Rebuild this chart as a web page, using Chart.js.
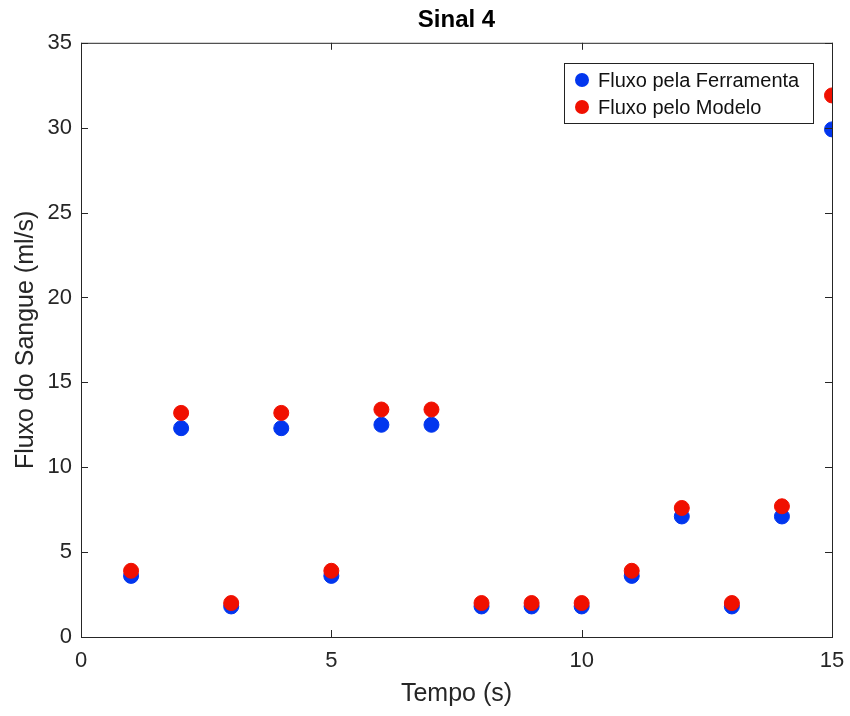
<!DOCTYPE html>
<html>
<head>
<meta charset="utf-8">
<script src="https://cdn.jsdelivr.net/npm/chart.js@4/dist/chart.umd.min.js"></script>
<style>
  html, body { margin: 0; padding: 0; background: #fff; }
  #wrap { width: 850px; height: 716px; }
</style>
</head>
<body>
<div id="wrap"><canvas id="canvas" width="850" height="716"></canvas></div>
<script>
// data
var tempo = [1, 2, 3, 4, 5, 6, 7, 8, 9, 10, 11, 12, 13, 14, 15];
var fluxoFerramenta = [3.6, 12.3, 1.8, 12.3, 3.6, 12.5, 12.5, 1.8, 1.8, 1.8, 3.6, 7.1, 1.8, 7.1, 29.9];
var fluxoModelo = [3.9, 13.2, 2.0, 13.2, 3.9, 13.4, 13.4, 2.0, 2.0, 2.0, 3.9, 7.6, 2.0, 7.7, 31.9];
var xTicks = [0, 5, 10, 15];
var yTicks = [0, 5, 10, 15, 20, 25, 30, 35];

var axisColor = '#262626';
var fontFamily = '"Liberation Sans", Arial, sans-serif';

function toPoints(xs, ys) {
    var pts = [];
    for (var i = 0; i < xs.length; i++) {
        pts.push({x: xs[i], y: ys[i]});
    }
    return pts;
}

// box around the plot + mirrored inward ticks, like matlab
var boxPlugin = {
    id: 'box',
    afterDatasetsDraw: function(chart) {
        var ctx = chart.ctx, a = chart.chartArea;
        var xs = chart.scales.x, ys = chart.scales.y;
        ctx.save();
        ctx.strokeStyle = axisColor;
        ctx.lineWidth = 1;
        ctx.strokeRect(a.left + 0.5, a.top + 0.5, a.right - a.left, a.bottom - a.top);
        ctx.beginPath();
        xTicks.forEach(function(v) {
            var px = Math.round(xs.getPixelForValue(v)) + 0.5;
            ctx.moveTo(px, a.bottom); ctx.lineTo(px, a.bottom - 7);
            ctx.moveTo(px, a.top); ctx.lineTo(px, a.top + 7);
        });
        yTicks.forEach(function(v) {
            var py = Math.round(ys.getPixelForValue(v)) + 0.5;
            ctx.moveTo(a.left, py); ctx.lineTo(a.left + 7, py);
            ctx.moveTo(a.right, py); ctx.lineTo(a.right - 7, py);
        });
        ctx.stroke();

        // legend box in the top right corner
        var lx = 564, ly = 63, lw = 249, lh = 60;
        ctx.fillStyle = '#fff';
        ctx.fillRect(lx, ly, lw, lh);
        ctx.strokeStyle = '#222';
        ctx.strokeRect(lx + 0.5, ly + 0.5, lw, lh);
        ctx.font = '20px ' + fontFamily;
        ctx.textBaseline = 'middle';
        chart.data.datasets.forEach(function(ds) {
            var cy = ly + 17 + ds.legendRow * 27;
            ctx.beginPath();
            ctx.fillStyle = ds.backgroundColor;
            ctx.arc(lx + 18, cy, 7, 0, Math.PI * 2);
            ctx.fill();
            ctx.fillStyle = '#111';
            ctx.fillText(ds.label, lx + 34, cy + 1);
        });
        ctx.restore();
    }
};

var chart = new Chart(document.getElementById('canvas').getContext('2d'), {
    type: 'scatter',
    data: {
        datasets: [
            {
                label: 'Fluxo pela Ferramenta',
                data: toPoints(tempo, fluxoFerramenta),
                backgroundColor: '#0236ee',
                borderColor: '#0236ee',
                pointRadius: 7.5,
                order: 2,
                legendRow: 0
            },
            {
                label: 'Fluxo pelo Modelo',
                data: toPoints(tempo, fluxoModelo),
                backgroundColor: '#f01000',
                borderColor: '#f01000',
                pointRadius: 7.5,
                order: 1,
                legendRow: 1
            }
        ]
    },
    options: {
        responsive: false,
        animation: false,
        layout: { padding: { left: 0, right: 18, top: 0, bottom: 0 } },
        plugins: {
            legend: { display: false },
            tooltip: { enabled: false },
            title: {
                display: true,
                text: 'Sinal 4',
                fullSize: false,
                color: '#000',
                font: { family: fontFamily, size: 24, weight: 'bold' },
                padding: { top: 6, bottom: 8 }
            }
        },
        scales: {
            x: {
                type: 'linear',
                min: 0,
                max: 15,
                afterBuildTicks: function(scale) {
                    scale.ticks = xTicks.map(function(v) { return {value: v}; });
                },
                afterFit: function(scale) { scale.height = 79; },
                grid: { display: false },
                border: { display: false },
                ticks: {
                    color: axisColor,
                    font: { family: fontFamily, size: 22 },
                    padding: 3,
                    maxRotation: 0
                },
                title: {
                    display: true,
                    text: 'Tempo (s)',
                    color: axisColor,
                    font: { family: fontFamily, size: 25 },
                    padding: { top: 7, bottom: 7 }
                }
            },
            y: {
                type: 'linear',
                min: 0,
                max: 35,
                afterBuildTicks: function(scale) {
                    scale.ticks = yTicks.map(function(v) { return {value: v}; });
                },
                afterFit: function(scale) { scale.width = 81; },
                grid: { display: false },
                border: { display: false },
                ticks: {
                    color: axisColor,
                    font: { family: fontFamily, size: 22 },
                    padding: 1
                },
                title: {
                    display: true,
                    text: 'Fluxo do Sangue (ml/s)',
                    color: axisColor,
                    font: { family: fontFamily, size: 25 },
                    padding: { top: 11, bottom: 0 }
                }
            }
        }
    },
    plugins: [boxPlugin]
});
</script>
</body>
</html>
